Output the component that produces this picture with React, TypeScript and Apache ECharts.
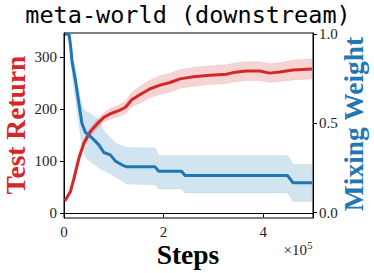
import React, { useEffect, useRef } from "react";
import * as echarts from "echarts";

// Test Return (left axis), steps in units of 1e5
const redSteps = [0.02, 0.13, 0.2, 0.3, 0.4, 0.53, 0.66, 0.8, 0.93, 1.1, 1.23, 1.36, 1.53, 1.73, 1.93, 2.13, 2.33, 2.6, 2.93, 3.26, 3.4, 3.66, 3.93, 4.13, 4.33, 4.6, 4.98];
const redMean = [24, 42, 67, 106, 135, 157, 171, 184, 191, 197, 203, 218, 228, 239, 246, 251, 258, 262, 265, 267, 270, 273, 273, 269, 271, 275, 277];
const redStd = [3, 4, 5, 6, 7, 8, 9, 9, 10, 11, 12, 14, 16, 17, 18, 18, 18, 18, 18, 18, 18, 18, 18, 18, 18, 19, 19];

// Mixing Weight (right axis)
const blueSteps = [0.02, 0.1, 0.13, 0.16, 0.23, 0.3, 0.36, 0.43, 0.56, 0.7, 0.8, 0.93, 1.03, 1.16, 1.26, 1.83, 1.9, 2.36, 2.43, 4.49, 4.6, 4.98];
const blueMean = [1.0, 1.0, 0.94, 0.85, 0.74, 0.61, 0.5, 0.45, 0.42, 0.38, 0.337, 0.324, 0.29, 0.268, 0.257, 0.257, 0.232, 0.232, 0.208, 0.208, 0.167, 0.167];
const blueLower = [1.0, 0.99, 0.9, 0.78, 0.63, 0.49, 0.38, 0.31, 0.28, 0.25, 0.236, 0.22, 0.2, 0.18, 0.16, 0.157, 0.133, 0.133, 0.11, 0.11, 0.063, 0.063];
const blueUpper = [1.0, 1.0, 0.97, 0.9, 0.8, 0.68, 0.6, 0.57, 0.55, 0.52, 0.46, 0.42, 0.39, 0.375, 0.365, 0.363, 0.32, 0.32, 0.32, 0.32, 0.27, 0.27];

const xTicks = [0, 2, 4];
const leftTicks = [0, 100, 200, 300];
const rightTicks = [0, 0.5, 1.0];

const RED = "#d62728";
const BLUE = "#1f77b4";
const SERIF = '"Liberation Serif", "Times New Roman", serif';
const NAME_FONT = `bold 27.5px ${SERIF}`;

function bandSeries(xs: number[], lo: number[], hi: number[], yAxisIndex: number, color: string) {
  return {
    type: "custom",
    yAxisIndex,
    silent: true,
    data: xs.map((x, i) => [x, lo[i], hi[i]]),
    encode: { x: 0, y: [1, 2] },
    renderItem: (params: any, api: any) => {
      if (params.dataIndex !== 0) return null;
      const pts: number[][] = [];
      for (let i = 0; i < xs.length; i++) pts.push(api.coord([xs[i], hi[i]]));
      for (let i = xs.length - 1; i >= 0; i--) pts.push(api.coord([xs[i], lo[i]]));
      return { type: "polygon", shape: { points: pts }, style: { fill: color, stroke: color, lineWidth: 0.5 } };
    },
  };
}

export default function App() {
  const ref = useRef<HTMLDivElement>(null);
  useEffect(() => {
    const chart = echarts.init(ref.current!, null, { renderer: "svg" });
    const pairs = (xs: number[], ys: number[]) => xs.map((x, i) => [x, ys[i]]);
    const redLower = redMean.map((m, i) => m - redStd[i]);
    const redUpper = redMean.map((m, i) => m + redStd[i]);
    const labelStyle = { fontFamily: SERIF, fontSize: 15, color: "#222" };
    const tick = (vals: number[]) => ({ show: true, length: 4, lineStyle: { color: "#000", width: 1 }, customValues: vals });
    chart.setOption({
      animation: false,
      backgroundColor: "#fff",
      grid: { left: 64, right: 61, top: 33, bottom: 55, show: true, borderColor: "#000", borderWidth: 1, backgroundColor: "transparent" },
      xAxis: {
        type: "value", min: 0, max: 5,
        axisLine: { show: true, lineStyle: { color: "#000", width: 1 } },
        splitLine: { show: false },
        axisTick: tick(xTicks),
        axisLabel: { ...labelStyle, margin: 6, customValues: xTicks, formatter: (v: number) => String(v) },
      },
      yAxis: [
        {
          type: "value", min: -9, max: 346, position: "left",
          axisLine: { show: true, lineStyle: { color: "#000", width: 1 } },
          splitLine: { show: false },
          axisTick: tick(leftTicks),
          axisLabel: { ...labelStyle, margin: 7, customValues: leftTicks, formatter: (v: number) => String(v) },
        },
        {
          type: "value", min: -0.03, max: 1.007, position: "right",
          axisLine: { show: true, lineStyle: { color: "#000", width: 1 } },
          splitLine: { show: false },
          axisTick: tick(rightTicks),
          axisLabel: { ...labelStyle, margin: 6, customValues: rightTicks, formatter: (v: number) => v.toFixed(1) },
        },
      ],
      series: [
        bandSeries(redSteps, redLower, redUpper, 0, "rgba(214,39,40,0.2)"),
        { type: "line", yAxisIndex: 0, data: pairs(redSteps, redMean), symbol: "none", lineStyle: { color: RED, width: 3 } },
        bandSeries(blueSteps, blueLower, blueUpper, 1, "rgba(31,119,180,0.2)"),
        { type: "line", yAxisIndex: 1, data: pairs(blueSteps, blueMean), symbol: "none", lineStyle: { color: BLUE, width: 3 } },
      ],
      graphic: [
        { type: "text", x: 188, y: 15, style: { text: "meta-world (downstream)", font: '23.5px "DejaVu Sans Mono", monospace', fill: "#000", align: "center", verticalAlign: "middle" } },
        { type: "text", x: 15.5, y: 125, rotation: Math.PI / 2, style: { text: "Test Return", font: NAME_FONT, fill: RED, align: "center", verticalAlign: "middle" } },
        { type: "text", x: 353, y: 124, rotation: Math.PI / 2, style: { text: "Mixing Weight", font: NAME_FONT, fill: BLUE, align: "center", verticalAlign: "middle" } },
        { type: "text", x: 188, y: 254, style: { text: "Steps", font: NAME_FONT, fill: "#000", align: "center", verticalAlign: "middle" } },
        { type: "text", x: 307, y: 250, style: { text: "×10", font: `15px ${SERIF}`, fill: "#222", align: "right", verticalAlign: "middle" } },
        { type: "text", x: 307.5, y: 245, style: { text: "5", font: `10px ${SERIF}`, fill: "#222", align: "left", verticalAlign: "middle" } },
      ],
    });
    return () => chart.dispose();
  }, []);
  return <div ref={ref} style={{ position: "fixed", left: 0, top: 0, width: 374, height: 273, background: "#fff" }} />;
}
